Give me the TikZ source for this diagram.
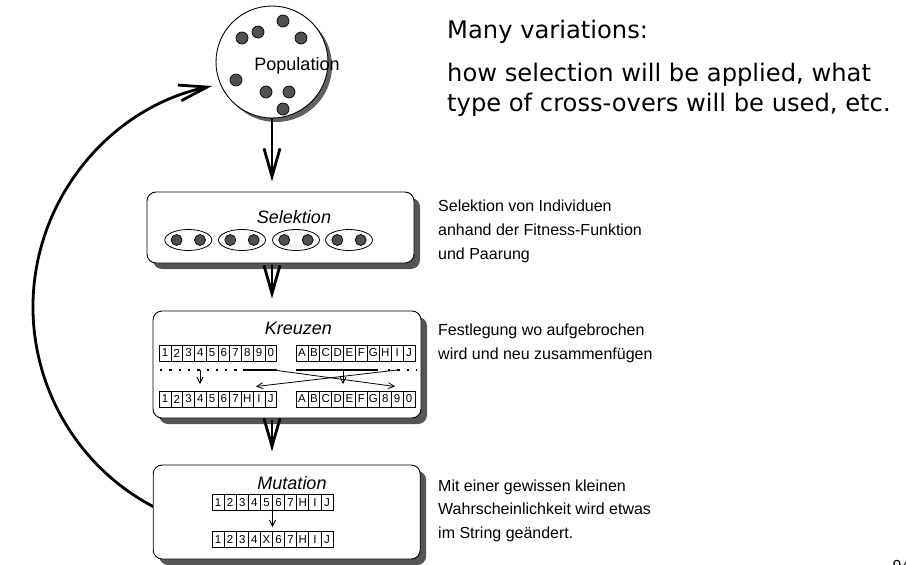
\documentclass[tikz,border=0pt]{standalone}
\usepackage{fontspec}
\setmainfont{Liberation Sans}
\newfontfamily\vfont{DejaVu Sans}
\usetikzlibrary{arrows.meta,shadows,shapes.geometric,calc}
\definecolor{shadowgray}{HTML}{555555}
\definecolor{dotgray}{HTML}{505050}
\newcommand\mkrow[5]{%
  \foreach \cellchar [count=\cidx] in {#5} {%
    \node[cell, minimum width=#4pt] (#1\cidx) at ({#2+(\cidx-0.5)*#4}, #3) {\cellchar};}}
\begin{document}
\begin{tikzpicture}[x=1pt,y=-1pt,line join=round,
  stagebox/.style={draw=black, line width=0.9pt, fill=white, rounded corners=9pt, inner sep=0pt,
     drop shadow={shadow xshift=6pt, shadow yshift=-6pt, fill=shadowgray, opacity=1}},
  bigarrow/.style={line width=2.8pt, -{Straight Barb[length=28pt,width=16pt]}},
  thinarrow/.style={line width=0.8pt, -{Straight Barb[length=6pt,width=6pt]}},
  indiv/.style={circle, draw=black, line width=0.7pt, fill=dotgray, minimum size=12pt, inner sep=0pt},
  pair/.style={ellipse, draw=black, line width=0.8pt, fill=white, minimum width=47pt, minimum height=21pt, inner sep=0pt},
  cell/.style={draw=black, line width=0.7pt, fill=white, inner sep=0pt, minimum height=16pt, font=\fontsize{11.5}{12}\selectfont},
  stagetitle/.style={anchor=base, inner sep=0pt, font=\fontsize{18}{20}\selectfont\itshape},
  note/.style={anchor=base west, inner sep=0pt, font=\fontsize{16}{18}\selectfont},
  bignote/.style={anchor=base west, inner sep=0pt, font=\vfont\fontsize{24.2}{27}\selectfont},
  dotline/.style={line width=2pt, dash pattern=on 2.3pt off 7pt},
  cutline/.style={line width=2pt}
]
\useasboundingbox (0,0) rectangle (906,565);

% loop arrow back to the population
\coordinate (loopstart) at (156,508);
\coordinate (loopend) at (212,86);
\draw[bigarrow] (loopstart) .. controls (71.3,465) and (22.4,372.2) .. (34.9,277.5)
  .. controls (47.4,182.8) and (118.6,105.9) .. (loopend);

% population
\node[circle, draw=black, line width=0.9pt, fill=white, minimum size=112pt, inner sep=0pt,
  drop shadow={shadow xshift=4pt, shadow yshift=-4pt, fill=black!62, opacity=1}] (pop) at (272,62) {};
\foreach \px/\py [count=\k] in {283/21,258/32,242/38,301/38,236/80,266/92,289/92,283/109} {
  \node[indiv] (d\k) at (\px,\py) {};
}
\node[inner sep=0pt, anchor=base, font=\fontsize{18}{20}\selectfont] (poplabel) at (297,70) {Population};

% Selektion
\node[stagebox, minimum width=267pt, minimum height=71pt] (sel) at (280.5,227.5) {};
\node[stagetitle] (seltitle) at (294,223.3) {Selektion};
\foreach \ox [count=\k] in {188.3,242,296,349} {
  \node[pair] (pair\k) at (\ox,240) {};
  \node[indiv, minimum size=11pt] (pa\k) at ({\ox-11.7},240) {};
  \node[indiv, minimum size=11pt] (pb\k) at ({\ox+11.7},240) {};
}

% Kreuzen
\node[stagebox, minimum width=268pt, minimum height=107pt] (kr) at (287,364.5) {};
\node[stagetitle] (krtitle) at (298.3,334.3) {Kreuzen};
\mkrow{ta}{159.3}{353}{11.74}{1,2,3,4,5,6,7,8,9,0}
\mkrow{tb}{296}{353}{11.9}{A,B,C,D,E,F,G,H,I,J}
\mkrow{ba}{159.3}{399}{11.74}{1,2,3,4,5,6,7,H,I,J}
\mkrow{bb}{296}{399}{11.9}{A,B,C,D,E,F,G,8,9,0}
\draw[dotline] (160,369.5) -- (240,369.5);
\draw[cutline] (243,369.5) -- (277,369.5);
\draw[cutline] (296,369.5) -- (378,369.5);
\draw[dotline] (388,369.5) -- (416,369.5);
\draw[thinarrow] (277,370.5) -- (395,386.5);
\draw[thinarrow] (397,370) -- (256,386.5);
\draw[thinarrow] (200,370) -- (200,384);
\draw[thinarrow] (343,370) -- (343,384);

% Mutation
\node[stagebox, minimum width=267pt, minimum height=94pt] (mut) at (286.7,512) {};
\node[stagetitle] (muttitle) at (292,489.3) {Mutation};
\mkrow{ma}{212}{502.5}{12.1}{1,2,3,4,5,6,7,H,I,J}
\mkrow{mb}{212}{539.5}{12.1}{1,2,3,4,X,6,7,H,I,J}
\draw[thinarrow] (272.5,510) -- (272.5,527);

% main flow arrows
\draw[bigarrow, shorten >=10pt] (pop.south) -- (pop.south |- sel.north);
\draw[bigarrow, shorten <=2pt, shorten >=12pt] (sel.south -| pop) -- (kr.north -| pop);
\draw[bigarrow, shorten <=2pt, shorten >=13pt] (kr.south -| pop) -- (mut.north -| pop);

% side notes
\node[note] (s1) at (438,211) {Selektion von Individuen};
\node[note] (s2) at (438,235) {anhand der Fitness-Funktion};
\node[note] (s3) at (438,259) {und Paarung};
\node[note] (k1) at (438,335.5) {Festlegung wo aufgebrochen};
\node[note] (k2) at (438,359) {wird und neu zusammenfügen};
\node[note] (m1) at (438,491) {Mit einer gewissen kleinen};
\node[note] (m2) at (438,514.5) {Wahrscheinlichkeit wird etwas};
\node[note] (m3) at (438,538) {im String geändert.};

% top right remarks
\node[bignote] (v1) at (447,38.3) {Many variations:};
\node[bignote] (v2) at (447,81.7) {how selection will be applied, what};
\node[bignote] (v3) at (447,111.7) {type of cross-overs will be used, etc.};

% page number, cut by the border as in the reference
\node[note] (pagenum) at (892.5,571) {94};
\end{tikzpicture}
\end{document}
